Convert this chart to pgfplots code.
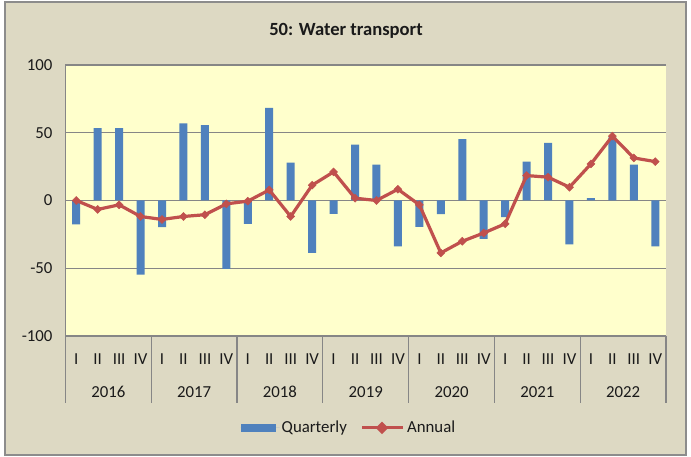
\documentclass[border=0pt]{standalone}
\usepackage{fontspec}
\setmainfont{Carlito}
\usepackage{pgfplots}
\pgfplotsset{compat=1.18}
\definecolor{bgbeige}{HTML}{DDD9C3}
\definecolor{plotbg}{HTML}{FFFFCC}
\definecolor{barblue}{HTML}{4F81BD}
\definecolor{linered}{HTML}{C0504D}
\definecolor{gridgray}{HTML}{868686}
\definecolor{framegray}{HTML}{8C8C8C}
\definecolor{labeltext}{HTML}{1A1A1A}
\pgfplotsset{
  quarterleg/.style={legend image code/.code={\fill[barblue] (0pt,-4pt) rectangle (35pt,4pt);
     \path (0pt,0pt) -- (39pt,0pt);}},
  annualleg/.style={legend image code/.code={\draw[linered,line width=3.2pt] (0pt,0pt) -- (39pt,0pt);
     \fill[linered] (19.5pt,4pt) -- (23.5pt,0pt) -- (19.5pt,-4pt) -- (15.5pt,0pt) -- cycle;
     \path (0pt,0pt) -- (41pt,0pt);}},
}
\begin{document}
\begin{tikzpicture}[x=1pt,y=1pt]
\useasboundingbox (0,0) rectangle (691,457);
\fill[white] (0,0) rectangle (691,457);
\filldraw[fill=bgbeige, draw=framegray, line width=1.2pt] (5,2) rectangle (686,455);
\node[font=\bfseries\fontsize{18.6}{22}\selectfont, text=labeltext] at (346,426) {50: Water transport};
\begin{axis}[
  at={(65.5pt,121pt)}, anchor=south west,
  scale only axis, width=600.5pt, height=271pt,
  xmin=-0.5, xmax=27.5, ymin=-100, ymax=100,
  axis background/.style={fill=plotbg},
  axis lines*=left,
  axis line style={draw=gridgray, line width=1.2pt},
  ytick={-100,-50,0,50,100},
  yticklabels={-100,-50,0,50,100},
  ymajorgrids,
  grid style={draw=gridgray, line width=1.2pt},
  xtick={0,...,27},
  xticklabels={I,II,III,IV,I,II,III,IV,I,II,III,IV,I,II,III,IV,I,II,III,IV,I,II,III,IV,I,II,III,IV},
  major tick length=0pt,
  tick style={draw=gridgray, line width=1.2pt},
  extra x ticks={-0.5,3.5,...,27.5},
  extra x tick labels={},
  extra x tick style={major tick length=66.7pt, tick align=outside, grid=none},
  xticklabel style={anchor=center, yshift=-23pt},
  yticklabel style={xshift=-9.5pt},
  tick label style={font=\fontsize{16.8}{20}\selectfont, text=labeltext},
  clip=false,
  legend columns=2,
  legend style={at={(0.472,-0.339)}, anchor=center, draw=none, fill=none,
    font=\fontsize{16.8}{20}\selectfont, text=labeltext,
    /tikz/every even column/.append style={column sep=12pt}},
]
\addplot[ybar, bar width=8pt, fill=barblue, draw=none, quarterleg]
  coordinates {
  (0,-17.6) (1,53.4) (2,53.4) (3,-54.7)
  (4,-19.6) (5,56.9) (6,55.6) (7,-50.5)
  (8,-17.2) (9,68.4) (10,27.9) (11,-38.7)
  (12,-9.8) (13,41.3) (14,26.5) (15,-33.8)
  (16,-19.5) (17,-10.1) (18,45.3) (19,-28.4)
  (20,-12.3) (21,28.7) (22,42.6) (23,-32.4)
  (24,1.7) (25,46.6) (26,26.5) (27,-33.8)
  };
\addlegendentry{Quarterly}
\addplot[color=linered, line width=3.2pt, mark=square*, mark size=2.8pt,
  mark options={rotate=45, solid, line width=0.5pt}, annualleg]
  coordinates {
  (0,0) (1,-6.6) (2,-3.2) (3,-11.8)
  (4,-14) (5,-11.8) (6,-10.5) (7,-2.5)
  (8,-0.5) (9,7.8) (10,-11.8) (11,11.3)
  (12,21.1) (13,1.7) (14,0) (15,8.3)
  (16,-3.2) (17,-38.7) (18,-30.1) (19,-24)
  (20,-17.2) (21,18.4) (22,17.2) (23,9.8)
  (24,27) (25,47.5) (26,31.4) (27,28.7)
  };
\addlegendentry{Annual}
\node[font=\fontsize{16.8}{20}\selectfont, text=labeltext] at (axis cs:1.5,-100) [yshift=-55.7pt] {2016};
\node[font=\fontsize{16.8}{20}\selectfont, text=labeltext] at (axis cs:5.5,-100) [yshift=-55.7pt] {2017};
\node[font=\fontsize{16.8}{20}\selectfont, text=labeltext] at (axis cs:9.5,-100) [yshift=-55.7pt] {2018};
\node[font=\fontsize{16.8}{20}\selectfont, text=labeltext] at (axis cs:13.5,-100) [yshift=-55.7pt] {2019};
\node[font=\fontsize{16.8}{20}\selectfont, text=labeltext] at (axis cs:17.5,-100) [yshift=-55.7pt] {2020};
\node[font=\fontsize{16.8}{20}\selectfont, text=labeltext] at (axis cs:21.5,-100) [yshift=-55.7pt] {2021};
\node[font=\fontsize{16.8}{20}\selectfont, text=labeltext] at (axis cs:25.5,-100) [yshift=-55.7pt] {2022};
\end{axis}
\end{tikzpicture}
\end{document}
